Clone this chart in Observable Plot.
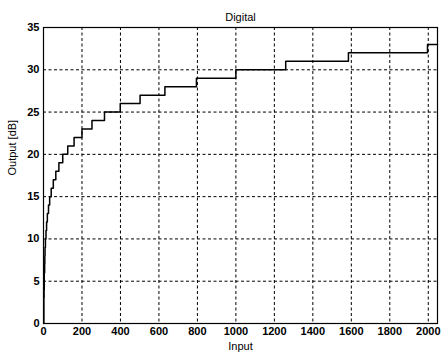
<!DOCTYPE html>
<html>
<head>
<meta charset="utf-8">
<script src="https://cdn.jsdelivr.net/npm/d3@7"></script>
<script src="https://cdn.jsdelivr.net/npm/@observablehq/plot@0.6"></script>
<style>
  html, body { margin: 0; padding: 0; background: #fff; }
  #chart svg { display: block; }
</style>
</head>
<body>
<div id="chart"></div>
<script>
// Step breakpoints: input where the output steps up, and the new level (dB)
const stepInput  = [1, 2, 3, 4, 6, 7, 8, 10, 13, 16, 20, 26, 32, 40, 51, 64, 80, 100, 126, 159, 200, 252, 317, 399, 502, 631, 795, 1000, 1259, 1585, 1996, 2048];
const stepOutput = [0, 3, 4, 6, 7, 8, 9, 10, 11, 12, 13, 14, 15, 16, 17, 18, 19, 20, 21, 22, 23, 24, 25, 26, 27, 28, 29, 30, 31, 32, 33, 33];
const xTicks = [0, 200, 400, 600, 800, 1000, 1200, 1400, 1600, 1800, 2000];
const yTicks = [0, 5, 10, 15, 20, 25, 30, 35];
const titleText = "Digital";
const xLabel = "Input";
const yLabel = "Output [dB]";

const data = stepInput.map((x, i) => ({x, y: stepOutput[i]}));

const chart = Plot.plot({
  width: 441,
  height: 355,
  marginLeft: 43,
  marginRight: 4,
  marginTop: 27,
  marginBottom: 32,
  style: {fontFamily: "Liberation Sans, Arial, sans-serif", fontSize: "11px", color: "#000", background: "#fff"},
  x: {domain: [0, 2048], ticks: xTicks, label: null},
  y: {domain: [0, 35], ticks: yTicks, label: null},
  marks: [
    Plot.gridX(xTicks.slice(1), {stroke: "#000", strokeOpacity: 1, strokeDasharray: "3,2.5", strokeWidth: 1}),
    Plot.gridY(yTicks.slice(1, -1), {stroke: "#000", strokeOpacity: 1, strokeDasharray: "3,2.5", strokeWidth: 1}),
    Plot.axisX({ticks: xTicks, tickSize: 0, tickPadding: 4, tickFormat: d => String(d), fontWeight: "bold", fontSize: 11}),
    Plot.axisY({ticks: yTicks, tickSize: 0, tickPadding: 4, tickFormat: d => String(d), fontWeight: "bold", fontSize: 11}),
    Plot.line(data, {x: "x", y: "y", curve: "step-after", stroke: "#000", strokeWidth: 1.5}),
    Plot.frame({stroke: "#000", strokeWidth: 1.2}),
    Plot.text([titleText], {frameAnchor: "top", dy: -14, text: d => d, fontSize: 11}),
    Plot.text([xLabel], {frameAnchor: "bottom", dy: 26, text: d => d, fontSize: 11}),
    Plot.text([yLabel], {frameAnchor: "left", dx: -31, rotate: -90, text: d => d, fontSize: 11})
  ]
});
document.getElementById("chart").appendChild(chart);
</script>
</body>
</html>
